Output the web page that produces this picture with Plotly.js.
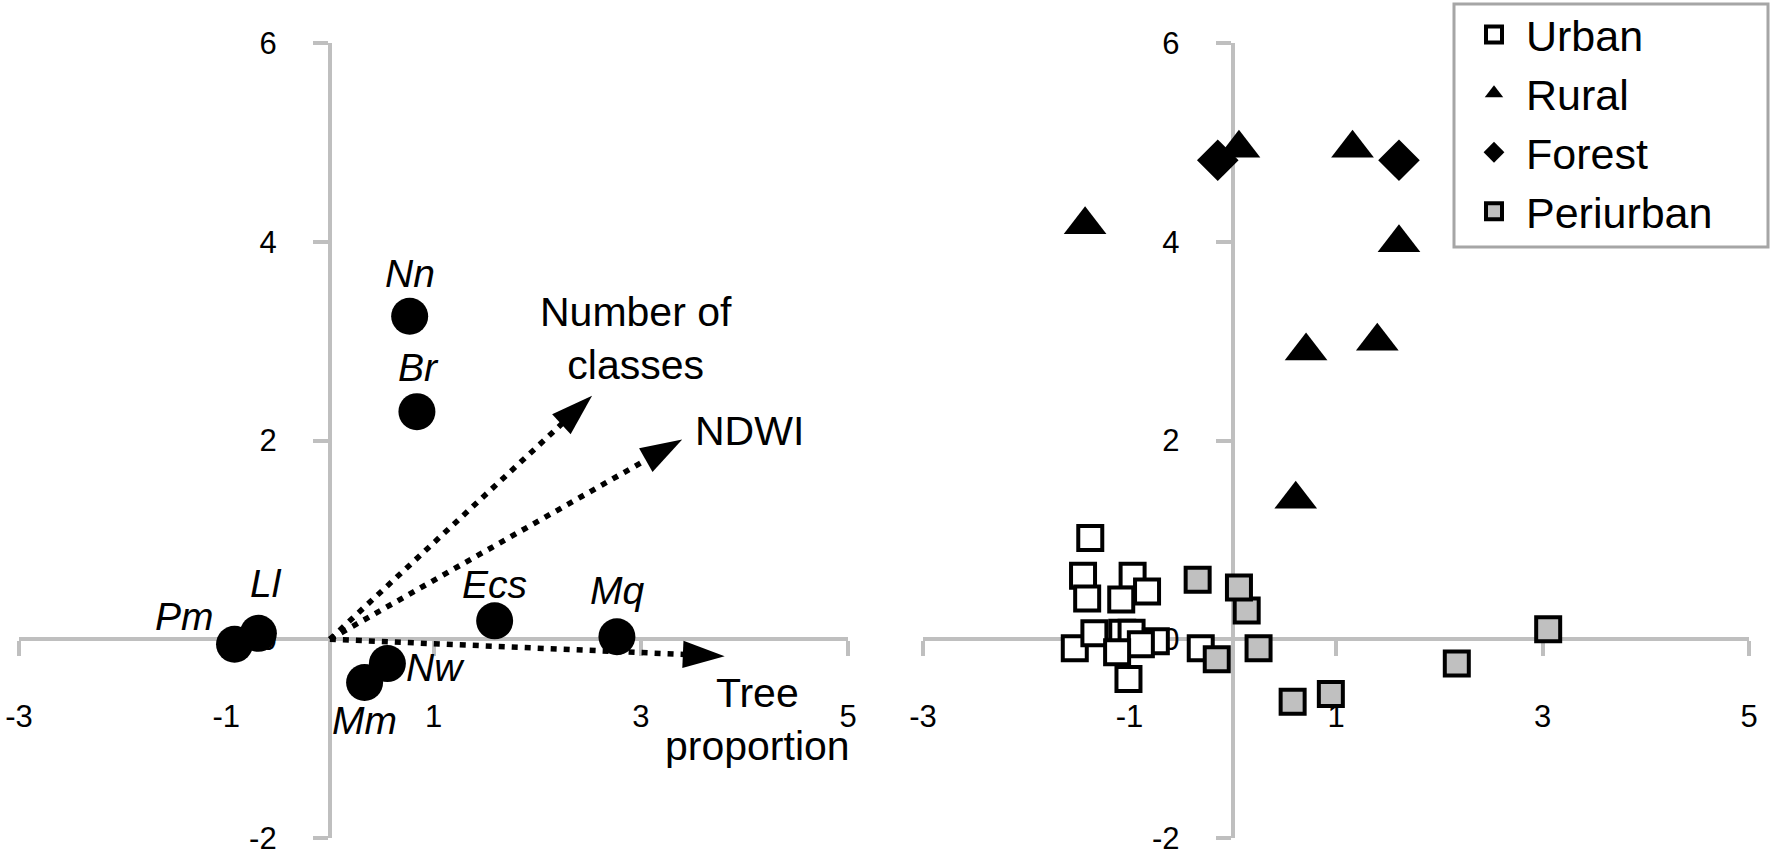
<!DOCTYPE html>
<html><head><meta charset="utf-8">
<script src="https://cdn.plot.ly/plotly-3.0.1.min.js"></script>
<style>html,body{margin:0;padding:0;background:#fff;} #chart{width:1773px;height:862px;}</style>
</head><body><div id="chart"></div>
<script>
// ---------- DATA ----------
// Left panel: species scores
const speciesCodes = ['Pm', 'Ll', 'Nn', 'Br', 'Ecs', 'Mq', 'Mm', 'Nw'];
const speciesX = [-0.92, -0.69, 0.77, 0.84, 1.59, 2.77, 0.335, 0.555];
const speciesY = [-0.05, 0.06, 3.25, 2.29, 0.185, 0.025, -0.435, -0.245];

// Left panel: environmental vectors
const vectorNames = ['Number of<br>classes', 'NDWI', 'Tree<br>proportion'];
const vectorX = [2.53, 3.40, 3.81];
const vectorY = [2.45, 2.01, -0.17];

// Right panel: sites by landscape type
const groupNames = ['Urban', 'Rural', 'Forest', 'Periurban'];
const urbanX = [-1.38, -1.45, -0.97, -1.41, -0.83, -1.08, -1.53, -1.34, -1.07, -0.98, -0.745, -0.89, -1.12, -1.01, -0.31];
const urbanY = [1.02, 0.64, 0.64, 0.41, 0.48, 0.40, -0.09, 0.06, 0.065, 0.065, -0.02, -0.05, -0.13, -0.40, -0.09];
const ruralX = [-1.43, 0.06, 1.16, 1.61, 0.71, 1.40, 0.61];
const ruralY = [4.17, 4.94, 4.94, 3.99, 2.90, 3.00, 1.41];
const forestX = [-0.145, 1.61];
const forestY = [4.82, 4.82];
const periX = [-0.34, 0.135, 0.06, -0.155, 0.25, 0.58, 0.95, 2.17, 3.055];
const periY = [0.60, 0.29, 0.52, -0.20, -0.09, -0.63, -0.55, -0.245, 0.10];

// Axis ticks
const tickValsX = [-3, -1, 1, 3, 5];
const tickValsY = [-2, 0, 2, 4, 6];

// ---------- STYLE ----------
const FONT = 'Liberation Sans, Arial, Helvetica, sans-serif';
const AXIS_GRAY = '#bfbfbf';
const W = 1773, H = 862;
// pixel offsets of the species labels from their points
const labelShift = {Pm: [-50, 28], Ll: [8, 50], Nn: [0, 43], Br: [2, 44],
                    Ecs: [0, 36], Mq: [0, 46], Mm: [0, -38], Nw: [48, -4]};
const vectorLabelShift = [[44, 57], [67, 9], [33, -63]];

const yDom = [(H - 838) / H, (H - 43) / H];
const xDomL = [19 / W, 848 / W];
const xDomR = [923 / W, 1749 / W];
const frac = (dom, range, v) => dom[0] + (v - range[0]) / (range[1] - range[0]) * (dom[1] - dom[0]);

function xAxis(dom) {
  return {domain: dom, range: [-3, 5], anchor: 'free', position: frac(yDom, [-2, 6], 0),
    showline: true, linecolor: AXIS_GRAY, linewidth: 4, ticks: 'outside', ticklen: 15,
    tickwidth: 4, tickcolor: AXIS_GRAY, tickvals: tickValsX, ticktext: tickValsX.map(String),
    showgrid: false, zeroline: false, tickfont: {family: FONT, size: 31, color: '#000'},
    ticklabelstandoff: 34, layer: 'below traces', fixedrange: true};
}
function yAxis(xdom) {
  return {domain: yDom, range: [-2, 6], anchor: 'free', position: frac(xdom, [-3, 5], 0),
    showline: true, linecolor: AXIS_GRAY, linewidth: 4, ticks: 'outside', ticklen: 15,
    tickwidth: 4, tickcolor: AXIS_GRAY, tickvals: tickValsY, ticktext: tickValsY.map(String),
    showgrid: false, zeroline: false, tickfont: {family: FONT, size: 31, color: '#000'},
    ticklabelstandoff: 30, layer: 'below traces', fixedrange: true};
}

const traces = [];
// vectors
vectorNames.forEach((n, i) => {
  traces.push({x: [0, vectorX[i]], y: [0, vectorY[i]], xaxis: 'x', yaxis: 'y', mode: 'lines+markers',
    type: 'scatter', showlegend: false, hoverinfo: 'skip', cliponaxis: false,
    line: {color: '#000', width: 5.5, dash: '6px,7px'},
    marker: {symbol: ['circle', 'arrow'], size: [0, 44], angleref: 'previous', color: '#000',
             opacity: 1, line: {width: 0, color: '#000'}}});
});
// species
traces.push({x: speciesX, y: speciesY, xaxis: 'x', yaxis: 'y',
  mode: 'markers', type: 'scatter', showlegend: false, cliponaxis: false,
  marker: {symbol: 'circle', size: 37, color: '#000'}});

// right panel groups
const groupStyle = {
  Urban: {symbol: 'square', size: 24, color: '#ffffff', line: {color: '#000', width: 4}},
  Rural: {symbol: 'triangle-up', size: 37, color: '#000'},
  Forest: {symbol: 'diamond', size: 32, color: '#000'},
  Periurban: {symbol: 'square', size: 24, color: '#c0c0c0', line: {color: '#000', width: 4}}
};
const groupData = {Urban: [urbanX, urbanY], Rural: [ruralX, ruralY], Forest: [forestX, forestY], Periurban: [periX, periY]};
groupNames.forEach(g => {
  traces.push({x: groupData[g][0], y: groupData[g][1], name: g, xaxis: 'x2', yaxis: 'y2',
    mode: 'markers', type: 'scatter', cliponaxis: false, marker: groupStyle[g]});
});

const annotations = vectorNames.map((n, i) => ({
  x: vectorX[i], y: vectorY[i], xref: 'x', yref: 'y', text: n, showarrow: false,
  xanchor: 'center', yanchor: 'middle', align: 'center',
  xshift: vectorLabelShift[i][0], yshift: vectorLabelShift[i][1],
  font: {family: FONT, size: 41, color: '#000'}
})).concat(speciesCodes.map((c, i) => ({
  x: speciesX[i], y: speciesY[i], xref: 'x', yref: 'y', text: c, showarrow: false,
  xanchor: 'center', yanchor: 'middle',
  xshift: labelShift[c][0], yshift: labelShift[c][1],
  font: {family: FONT, size: 39, color: '#000', style: 'italic'}
})));

const layout = {
  width: W, height: H, autosize: false,
  margin: {l: 0, r: 0, t: 0, b: 0, pad: 0},
  paper_bgcolor: '#fff', plot_bgcolor: 'rgba(0,0,0,0)',
  font: {family: FONT, color: '#000'},
  xaxis: xAxis(xDomL), yaxis: yAxis(xDomL),
  xaxis2: xAxis(xDomR), yaxis2: yAxis(xDomR),
  showlegend: true,
  legend: {x: 1462 / W, y: 1.0, xanchor: 'left', yanchor: 'top', bgcolor: 'rgba(0,0,0,0)',
    borderwidth: 0, itemwidth: 54, traceorder: 'normal',
    font: {family: FONT, size: 43, color: '#000'}},
  shapes: [{type: 'rect', xref: 'paper', yref: 'paper', x0: 1454 / W, x1: 1768 / W,
    y0: (H - 247) / H, y1: (H - 4) / H, line: {color: '#a6a6a6', width: 3}, fillcolor: 'rgba(0,0,0,0)', layer: 'below'}],
  annotations: annotations
};

Plotly.newPlot('chart', traces, layout, {displayModeBar: false, staticPlot: true});
</script></body></html>
